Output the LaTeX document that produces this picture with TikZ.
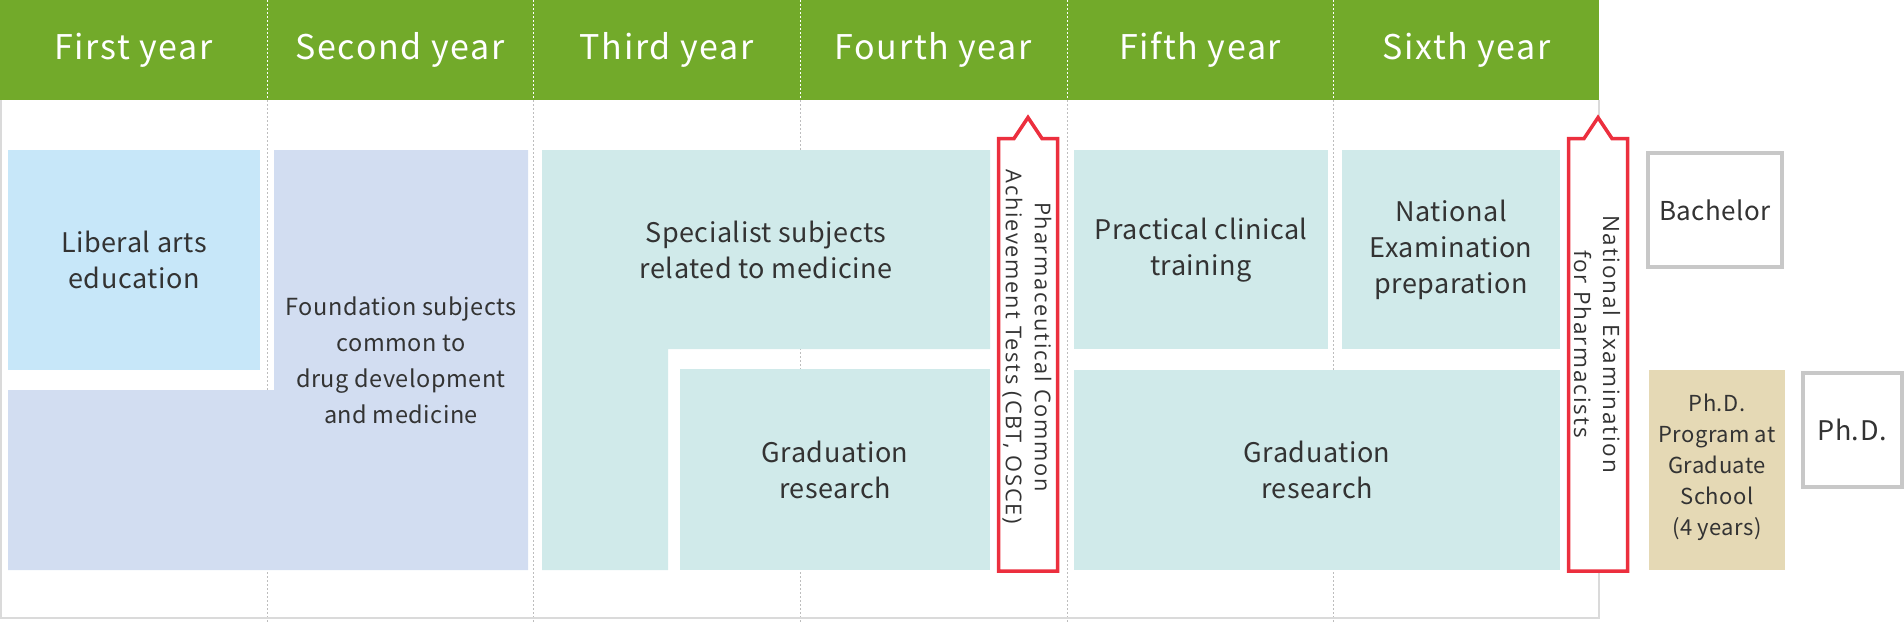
\documentclass[tikz,border=0pt]{standalone}
\usepackage{fontspec}
\setmainfont{Noto Sans CJK JP}
\newfontfamily\headfont[LetterSpace=5]{Noto Sans CJK JP}
\newfontfamily\bodyfont[LetterSpace=2]{Noto Sans CJK JP}
\newfontfamily\vertfont[LetterSpace=8]{Open Sans}
\definecolor{barGreen}{HTML}{72AA2A}
\definecolor{liberalBlue}{HTML}{C7E7F9}
\definecolor{foundBlue}{HTML}{D2DDF1}
\definecolor{specTeal}{HTML}{D0EAEA}
\definecolor{phdTan}{HTML}{E5D9B5}
\definecolor{examRed}{HTML}{EC2F3E}
\definecolor{frameGray}{HTML}{DADADA}
\definecolor{sepGray}{HTML}{BDBDBD}
\definecolor{degGray}{HTML}{C8C8C8}
\definecolor{txtGray}{HTML}{333333}
\tikzset{
  yearhead/.style={text=white, font=\headfont\fontsize{34}{40}\selectfont},
  subject/.style={align=center, text=txtGray, font=\bodyfont\fontsize{27}{36}\selectfont},
  vertlabel/.style={align=center, text=txtGray, rotate=-90, font=\vertfont\fontsize{22.5}{29}\selectfont},
  degree/.style={text=txtGray, font=\bodyfont\fontsize{26}{34}\selectfont},
  degbox/.style={draw=degGray, line width=4pt, fill=white},
  examline/.style={draw=examRed, line width=3.5pt, fill=white, line join=miter},
  colsep/.style={sepGray, line width=1pt, dash pattern=on 2pt off 2pt}
}
\begin{document}
\begin{tikzpicture}[x=1pt,y=-1pt]
  \useasboundingbox (0,0) rectangle (1904,622);

    % header bar
  \fill[barGreen] (0,0) rectangle (1599,100);
  \foreach \cx in {267,533,800,1067,1333} {
    \draw[white, line width=1pt, dash pattern=on 2pt off 2pt] (\cx,0) -- (\cx,100);
    \draw[colsep] (\cx,100) -- (\cx,622);
  }
  \foreach \yr [count=\i] in {First,Second,Third,Fourth,Fifth,Sixth}
    \node[yearhead] (year\i) at ({266.67*\i-133.33},50) {\yr\ year};

    % frame
  \draw[frameGray, line width=2pt] (1,100) -- (1,618) -- (1599,618) -- (1599,100);

    % first year
  \fill[liberalBlue] (8,150) rectangle (260,370);
  \node[subject] (liberal) at (134,260) {Liberal arts\\education};

    % foundation, first and second year
  \fill[foundBlue] (274,150) -- (528,150) -- (528,570) -- (8,570) -- (8,390) -- (274,390) -- cycle;
  \node[subject, font=\bodyfont\fontsize{23.5}{36}\selectfont] (found) at (401,360)
    {Foundation subjects\\common to\\drug development\\and medicine};

    % specialist, third and fourth year
  \fill[specTeal] (542,150) -- (990,150) -- (990,349) -- (668,349) -- (668,570) -- (542,570) -- cycle;
  \node[subject] (special) at (766,250) {Specialist subjects\\related to medicine};
  \fill[specTeal] (680,369) rectangle (990,570);
  \node[subject] (gradA) at (835,470) {Graduation\\research};

    % fifth and sixth year
  \fill[specTeal] (1074,150) rectangle (1328,349);
  \node[subject] (clinic) at (1201,250) {Practical clinical\\training};
  \fill[specTeal] (1342,150) rectangle (1560,349);
  \node[subject] (natprep) at (1451,250) {National\\Examination\\preparation};
  \fill[specTeal] (1074,370) rectangle (1560,570);
  \node[subject] (gradB) at (1317,470) {Graduation\\research};

    % exams
  \foreach \ex in {0,570}
    \draw[examline, xshift=\ex] (998.5,138.5) -- (1014,138.5) -- (1028,117.5) -- (1042,138.5)
      -- (1057.5,138.5) -- (1057.5,571) -- (998.5,571) -- cycle;
  \node[vertlabel, font=\vertfont\fontsize{21.8}{29}\selectfont] (cbt) at (1027,347)
    {Pharmaceutical Common\\Achievement Tests (CBT, OSCE)};
  \node[vertlabel] (natexam) at (1597,344) {National Examination\\for Pharmacists};

    % degrees
  \draw[degbox] (1647.5,152.5) rectangle (1782,267);
  \node[degree] (bachelor) at (1715,210) {Bachelor};
  \fill[phdTan] (1649,370) rectangle (1785,570);
  \node[subject, font=\bodyfont\fontsize{22}{31}\selectfont] (phdprog) at (1717,467)
    {Ph.D.\\Program at\\Graduate\\School\\(4 years)};
  \draw[degbox] (1802.5,372.5) rectangle (1902,487);
  \node[degree, font=\bodyfont\fontsize{27}{34}\selectfont] (phd) at (1852,430) {Ph.D.};
\end{tikzpicture}
\end{document}
